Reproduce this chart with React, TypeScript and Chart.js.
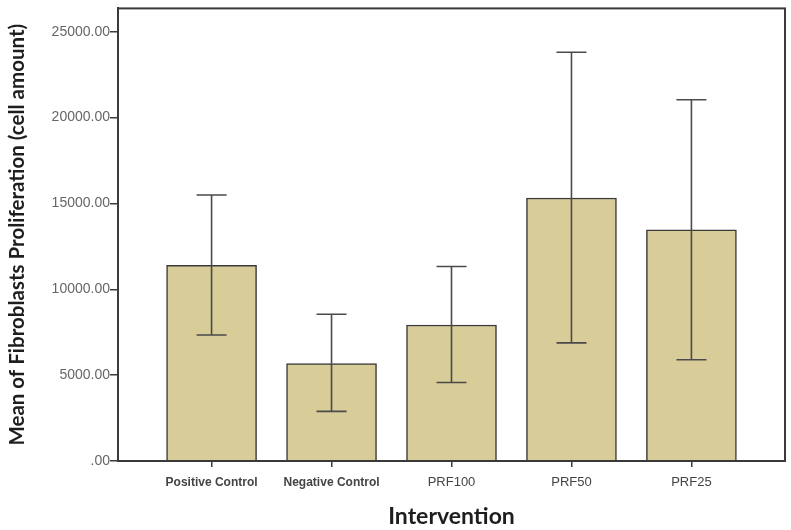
import React, { useEffect, useRef } from "react";
import { Chart, registerables } from "chart.js";

Chart.register(...registerables);

const categories = ["Positive Control", "Negative Control", "PRF100", "PRF50", "PRF25"];
const means = [11390, 5670, 7920, 15320, 13470];
const upperErr = [15490, 8550, 11330, 23810, 21040];
const lowerErr = [7340, 2890, 4570, 6880, 5900];
const yTicks = [0, 5000, 10000, 15000, 20000, 25000];

const LINE = "#3a3a3a";

const errorBarPlugin = {
  id: "errorBars",
  afterDatasetsDraw(chart: any) {
    const { ctx, scales } = chart;
    const x = scales.x;
    const y = scales.y;
    ctx.save();
    ctx.strokeStyle = "#4a4a4a";
    ctx.lineWidth = 1.6;
    categories.forEach((_, i) => {
      const px = x.getPixelForValue(i);
      const top = y.getPixelForValue(upperErr[i]);
      const bot = y.getPixelForValue(lowerErr[i]);
      const cap = 15;
      ctx.beginPath();
      ctx.moveTo(px, top);
      ctx.lineTo(px, bot);
      ctx.moveTo(px - cap, top);
      ctx.lineTo(px + cap, top);
      ctx.moveTo(px - cap, bot);
      ctx.lineTo(px + cap, bot);
      ctx.stroke();
    });
    ctx.restore();
  },
};

const framePlugin = {
  id: "frame",
  afterDraw(chart: any) {
    const { ctx, chartArea } = chart;
    ctx.save();
    ctx.strokeStyle = LINE;
    ctx.lineWidth = 2;
    ctx.strokeRect(chartArea.left, chartArea.top, chartArea.right - chartArea.left, chartArea.bottom - chartArea.top);
    ctx.restore();
  },
};

export default function App() {
  const canvasRef = useRef<HTMLCanvasElement | null>(null);

  useEffect(() => {
    if (!canvasRef.current) return;
    const chart = new Chart(canvasRef.current, {
      type: "bar",
      data: {
        datasets: [
          {
            data: means.map((v, i) => ({ x: i, y: v })),
            backgroundColor: "#d8cc98",
            borderColor: LINE,
            borderWidth: 1.5,
            barThickness: 90,
          },
        ],
      },
      plugins: [errorBarPlugin, framePlugin],
      options: {
        animation: false,
        responsive: false,
        maintainAspectRatio: false,
        layout: { padding: { top: 5, right: 6, left: 0, bottom: 0 } },
        plugins: { legend: { display: false }, tooltip: { enabled: false } },
        scales: {
          x: {
            type: "linear",
            offset: false,
            min: -0.78,
            max: 4.78,
            afterBuildTicks: (scale: any) => {
              scale.ticks = categories.map((_, i) => ({ value: i }));
            },
            afterFit: (scale: any) => {
              scale.height = 69;
            },
            grid: { display: true, offset: false, drawOnChartArea: false, drawTicks: true, tickLength: 6, color: LINE, lineWidth: 1.5 },
            border: { display: true, color: LINE, width: 2 },
            ticks: {
              autoSkip: false,
              maxRotation: 0,
              padding: 8,
              color: "#444",
              font: (ctx: any) =>
                ctx.index < 2
                  ? { family: "'Liberation Sans', Arial, sans-serif", size: 12, weight: "bold" }
                  : { family: "'Liberation Sans', Arial, sans-serif", size: 13, weight: "normal" },
              callback: (v: any) => categories[Math.round(Number(v))] ?? "",
            },
            title: {
              display: true,
              text: "Intervention",
              color: "#1e1e1e",
              font: { family: "Lato, sans-serif", size: 23, weight: "bold" },
              padding: { top: 5, bottom: 0 },
            },
          },
          y: {
            min: 0,
            max: 26360,
            afterBuildTicks: (scale: any) => {
              scale.ticks = yTicks.map((v) => ({ value: v }));
            },
            afterFit: (scale: any) => {
              scale.width = 118;
            },
            grid: { display: true, drawOnChartArea: false, drawTicks: true, tickLength: 8, color: LINE, lineWidth: 1.5 },
            border: { display: true, color: LINE, width: 2 },
            ticks: {
              padding: 0,
              color: "#666",
              font: { family: "'Liberation Sans', Arial, sans-serif", size: 14 },
              callback: (v: any) => (Number(v) === 0 ? ".00" : Number(v).toFixed(2)),
            },
            title: {
              display: true,
              text: "Mean of Fibroblasts Proliferation (cell amount)",
              color: "#1e1e1e",
              font: { family: "Lato, sans-serif", size: 20.5, weight: "bold" },
              padding: { top: 5, bottom: 0 },
            },
          },
        },
      },
    } as any);
    return () => chart.destroy();
  }, []);

  return (
    <div style={{ position: "fixed", left: 0, top: 0, width: 791, height: 530, background: "#fff" }}>
      <canvas ref={canvasRef} width={791} height={530} style={{ display: "block" }} />
    </div>
  );
}
